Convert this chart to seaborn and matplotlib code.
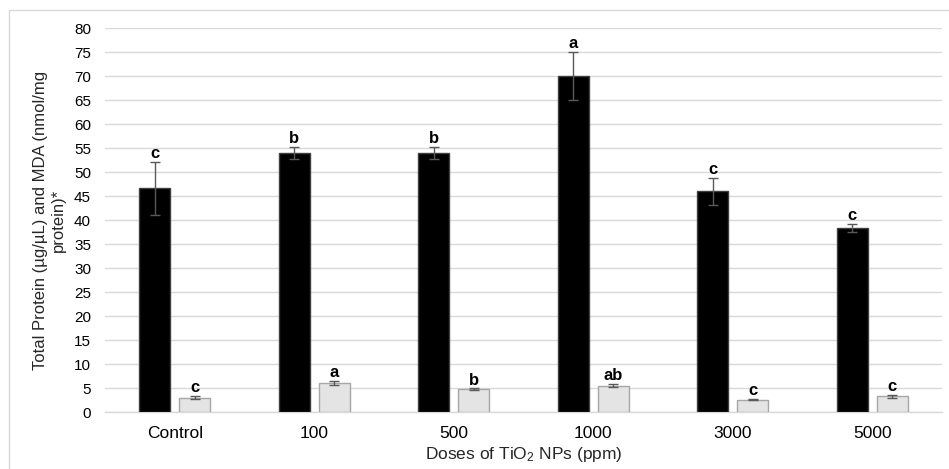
import numpy as np
import pandas as pd
import seaborn as sns
import matplotlib.pyplot as plt
from matplotlib.patches import Rectangle

doses = ['Control', '100', '500', '1000', '3000', '5000']

protein = [46.6, 54.0, 54.0, 70.0, 46.0, 38.3]
protein_err = [5.5, 1.3, 1.3, 5.0, 2.8, 0.9]
protein_letters = ['c', 'b', 'b', 'a', 'c', 'c']

mda = [3.0, 6.1, 4.7, 5.5, 2.6, 3.3]
mda_err = [0.3, 0.4, 0.2, 0.3, 0.1, 0.3]
mda_letters = ['c', 'a', 'b', 'ab', 'c', 'c']

sns.set_style('white')
plt.rcParams['font.family'] = ['Liberation Sans', 'DejaVu Sans']
plt.rcParams['mathtext.fontset'] = 'custom'
plt.rcParams['mathtext.rm'] = 'Liberation Sans'
plt.rcParams['mathtext.default'] = 'rm'

df = pd.DataFrame({
    'dose': doses * 2,
    'value': protein + mda,
    'kind': ['Total Protein'] * len(doses) + ['MDA'] * len(doses),
})

fig = plt.figure(figsize=(9.49, 4.69), dpi=100)
ax = fig.add_axes([105 / 949, 57 / 469, 837 / 949, 384 / 469])

sns.barplot(data=df, x='dose', y='value', hue='kind', order=doses,
            palette=['black', '#e4e4e4'], width=0.574, gap=0.225,
            errorbar=None, legend=False, ax=ax, zorder=3)

edges = ['#404040', '#a6a6a6']
series = [(protein, protein_err, protein_letters), (mda, mda_err, mda_letters)]
for cont, edge, (vals, errs, letters) in zip(ax.containers, edges, series):
    xs = []
    for bar in cont:
        bar.set_edgecolor(edge)
        bar.set_linewidth(1.0)
        xs.append(bar.get_x() + bar.get_width() / 2)
    ax.errorbar(xs, vals, yerr=errs, fmt='none', ecolor='#595959',
                elinewidth=1.0, capsize=3.5, capthick=1.0, zorder=4)
    for x, v, e, t in zip(xs, vals, errs, letters):
        ax.annotate(t, (x, v + e), xytext=(0, 0.5), textcoords='offset points',
                    ha='center', va='bottom', fontsize=12, fontweight='bold',
                    color='black')

ax.set_ylim(0, 80)
ax.set_yticks(np.arange(0, 81, 5))
ax.set_xlim(-0.5, len(doses) - 0.5)
ax.yaxis.grid(True, color='#d9d9d9', linewidth=1.0, zorder=0)
ax.set_axisbelow(True)
sns.despine(ax=ax, left=True, right=True, top=True, bottom=False)
ax.spines['bottom'].set_color('#d9d9d9')
ax.spines['bottom'].set_linewidth(1.0)
ax.tick_params(axis='both', length=0)
ax.tick_params(axis='y', labelsize=11, pad=10)
ax.tick_params(axis='x', labelsize=12.5, pad=10)
for lab in ax.get_xticklabels() + ax.get_yticklabels():
    lab.set_color('black')

ax.set_ylabel('Total Protein (µg/µL) and MDA (nmol/mg\nprotein)*',
              fontsize=12, labelpad=6, linespacing=1.25)
ax.set_xlabel('Doses of TiO$_2$ NPs (ppm)', fontsize=12.5, labelpad=3)

fig.patches.append(Rectangle((9 / 949, -0.1), 1.0, (469 - 10) / 469 + 0.1,
                             transform=fig.transFigure, fill=False,
                             edgecolor='#d9d9d9', linewidth=1.0))

fig.savefig('out.png', dpi=100)
